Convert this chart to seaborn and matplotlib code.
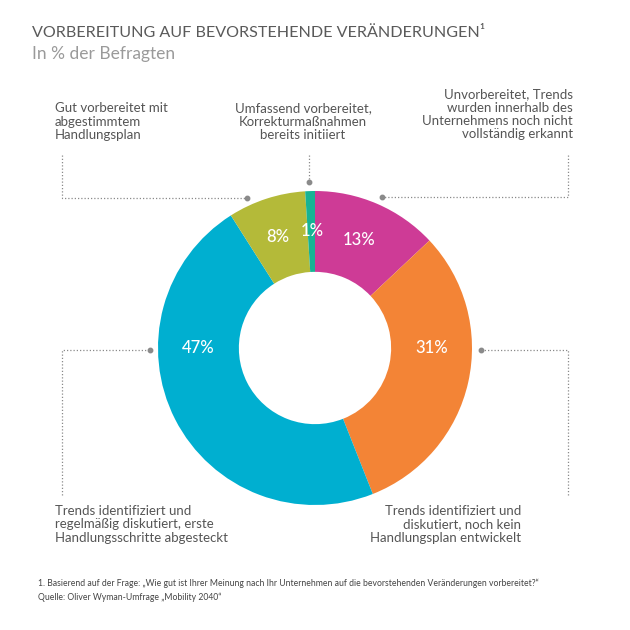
import numpy as np
import matplotlib.pyplot as plt
import seaborn as sns

# Data (clockwise from 12 o'clock)
categories = [
    "Unvorbereitet, Trends\nwurden innerhalb des\nUnternehmens noch nicht\nvollständig erkannt",
    "Trends identifiziert und\ndiskutiert, noch kein\nHandlungsplan entwickelt",
    "Trends identifiziert und\nregelmäßig diskutiert, erste\nHandlungsschritte abgesteckt",
    "Gut vorbereitet mit\nabgestimmtem\nHandlungsplan",
    "Umfassend vorbereitet,\nKorrekturmaßnahmen\nbereits initiiert",
]
values = [13, 31, 47, 8, 1]
colors = ["#CE3B96", "#F38436", "#00AFD0", "#B4BA39", "#17B394"]
# angle (deg clockwise from top) where each percentage is written
label_angles = [22, 90, 270, -18.5, -1.5]

sns.set_theme(style="white")
plt.rcParams["font.family"] = ["Lato", "DejaVu Sans"]

W = H = 630
fig = plt.figure(figsize=(6.3, 6.3), dpi=100)

# donut axes: centre (315, 348) px, radius 157 px
cx, cy, R = 315, 348, 157
ax = fig.add_axes([(cx - R) / W, (H - cy - R) / H, 2 * R / W, 2 * R / H])
wedges, _ = ax.pie(values, colors=colors, startangle=90, counterclock=False,
                   radius=1, wedgeprops=dict(width=0.515, edgecolor="none"))
ax.set_xlim(-1, 1)
ax.set_ylim(-1, 1)
ax.axis("off")

r_lab = 1 - 0.515 / 2
for v, a in zip(values, label_angles):
    t = np.deg2rad(a)
    ax.text(r_lab * np.sin(t), r_lab * np.cos(t), f"{v}%", ha="center", va="center",
            color="white", fontsize=12, fontweight="medium")

# overlay in pixel coordinates for texts and leader lines
ov = fig.add_axes([0, 0, 1, 1])
ov.set_xlim(0, W)
ov.set_ylim(H, 0)
ov.axis("off")
ov.patch.set_alpha(0)

gray = "#555555"
lc = "#8a8a8a"

def leader(xs, ys):
    ov.plot(xs, ys, ls=(0, (1, 1.6)), lw=0.9, color=lc)
    ov.plot(xs[-1], ys[-1], "o", ms=3.2, color=lc)

leader([568, 568, 382], [155, 197, 197])
leader([568, 568, 481], [495, 350, 350])
leader([62, 62, 150], [495, 350, 350])
leader([62, 62, 247], [155, 198, 198])
leader([309, 309], [155, 182])

fs = 9.5
ov.text(573, 88, categories[0], ha="right", va="top", fontsize=fs, color=gray, linespacing=1.15)
ov.text(521, 505, categories[1], ha="right", va="top", fontsize=fs, color=gray, linespacing=1.15)
ov.text(55, 505, categories[2], ha="left", va="top", fontsize=fs, color=gray, linespacing=1.15)
ov.text(55, 102, categories[3], ha="left", va="top", fontsize=fs, color=gray, linespacing=1.15)
ov.text(303, 102, categories[4], ha="center", va="top", fontsize=fs, color=gray, linespacing=1.15)

ov.text(32, 33, "VORBEREITUNG AUF BEVORSTEHENDE VERÄNDERUNGEN¹", ha="left", va="center",
        fontsize=11.6, color="#5a5a5a")
ov.text(32, 54, "In % der Befragten", ha="left", va="center", fontsize=12.5, color="#9a9a9a")

ov.text(38, 583, "1. Basierend auf der Frage: „Wie gut ist Ihrer Meinung nach Ihr Unternehmen auf die "
        "bevorstehenden Veränderungen vorbereitet?“", ha="left", va="center", fontsize=6.2, color="#444444")
ov.text(38, 597, "Quelle: Oliver Wyman-Umfrage „Mobility 2040“", ha="left", va="center",
        fontsize=6.2, color="#444444")

fig.savefig("out.png", dpi=100, facecolor="white")
